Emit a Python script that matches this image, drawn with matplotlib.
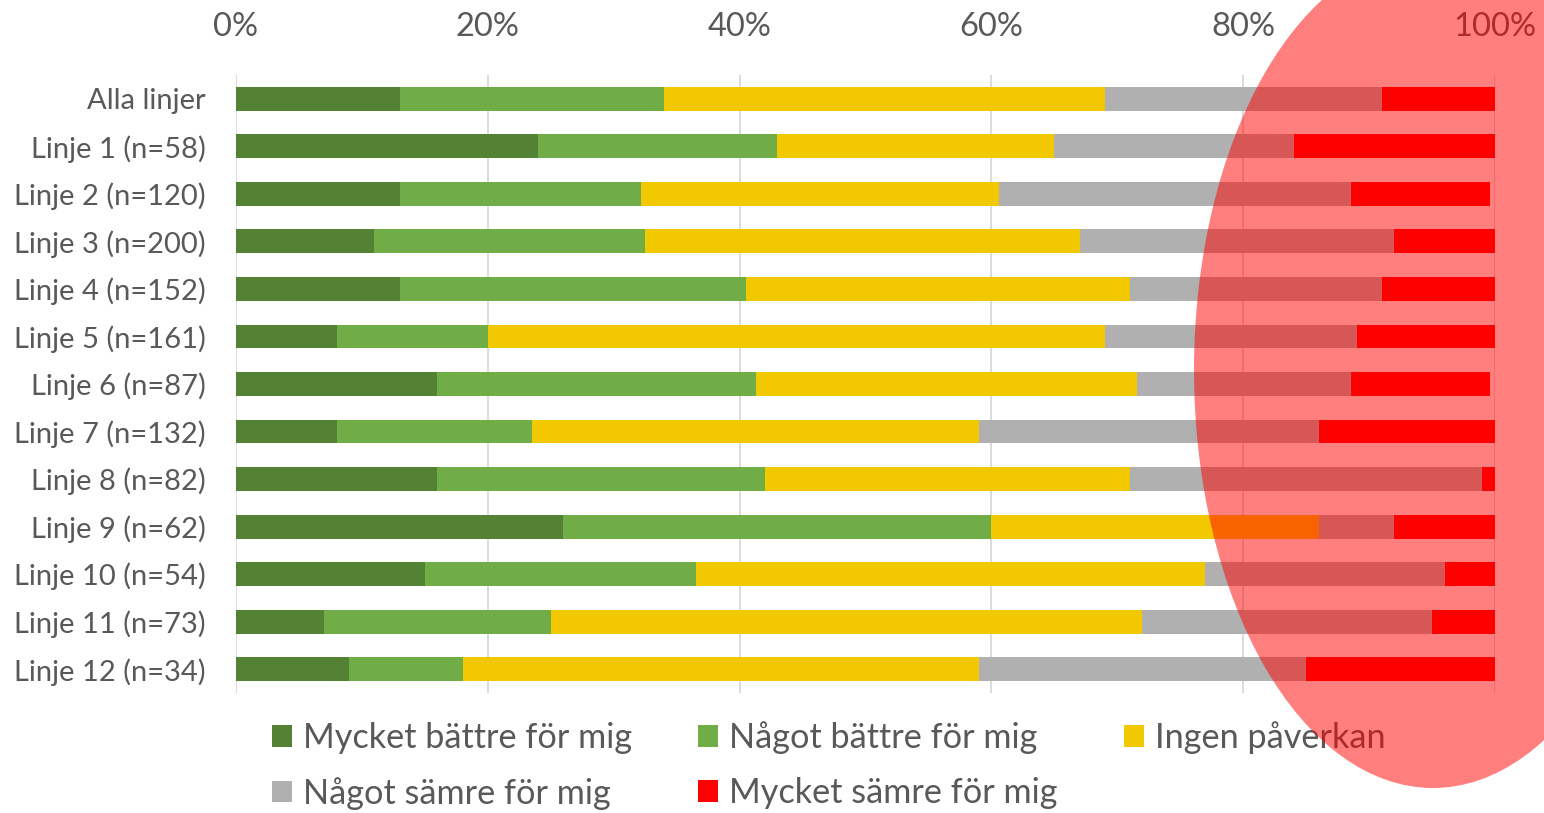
import matplotlib
matplotlib.use("Agg")
from matplotlib import pyplot as plt
from matplotlib.patches import Ellipse

plt.rcParams['font.family'] = ['Lato', 'DejaVu Sans']

kategorier = ['Alla linjer', 'Linje 1 (n=58)', 'Linje 2 (n=120)', 'Linje 3 (n=200)',
              'Linje 4 (n=152)', 'Linje 5 (n=161)', 'Linje 6 (n=87)', 'Linje 7 (n=132)',
              'Linje 8 (n=82)', 'Linje 9 (n=62)', 'Linje 10 (n=54)', 'Linje 11 (n=73)',
              'Linje 12 (n=34)']

# andelar i procent, en lista per svarsalternativ
mycket_battre = [13, 24, 13, 11, 13, 8, 16, 8, 16, 26, 15, 7, 9]
nagot_battre = [21, 19, 19.2, 21.5, 27.5, 12, 25.3, 15.5, 26, 34, 21.5, 18, 9]
ingen_paverkan = [35, 22, 28.4, 34.5, 30.5, 49, 30.3, 35.5, 29, 26, 40.5, 47, 41]
nagot_samre = [22, 19, 28, 25, 20, 20, 17, 27, 28, 6, 19, 23, 26]
mycket_samre = [9, 16, 11, 8, 9, 11, 11, 14, 1, 8, 4, 5, 15]

serier = ['Mycket bättre för mig', 'Något bättre för mig', 'Ingen påverkan',
          'Något sämre för mig', 'Mycket sämre för mig']
farger = ['#548235', '#70AD47', '#F2C800', '#B0B0B0', '#FF0000']
x_ticks = [0, 20, 40, 60, 80, 100]

textfarg = '#595959'

fig = plt.figure(figsize=(15.44, 8.13), dpi=100)
ax = fig.add_axes([236 / 1544, 1 - 693 / 813, (1495 - 236) / 1544, (693 - 75) / 813])

y = list(range(len(kategorier)))
bottom = [0] * len(kategorier)
data = [mycket_battre, nagot_battre, ingen_paverkan, nagot_samre, mycket_samre]
handles = []
for vals, namn, farg in zip(data, serier, farger):
    h = ax.barh(y, vals, left=bottom, height=0.5, color=farg, label=namn, zorder=2)
    handles.append(h)
    bottom = [b + v for b, v in zip(bottom, vals)]

ax.set_xlim(0, 100)
ax.set_ylim(len(kategorier) - 0.5, -0.5)
ax.set_yticks(y)
ax.set_yticklabels(kategorier, fontsize=21, color=textfarg)
ax.set_xticks(x_ticks)
ax.set_xticklabels([str(t) + '%' for t in x_ticks], fontsize=23.5, color=textfarg)
ax.xaxis.tick_top()
ax.tick_params(axis='both', length=0)
ax.tick_params(axis='x', pad=24)
ax.tick_params(axis='y', pad=22)
ax.grid(axis='x', color='#D9D9D9', linewidth=1.3, zorder=0)
for s in ax.spines.values():
    s.set_visible(False)

# legend radvis: ordna om för kolumnfyllning
ordning = [0, 3, 1, 4, 2]
leg = fig.legend([handles[i] for i in ordning], [serier[i] for i in ordning],
                 ncol=3, loc='upper left', bbox_to_anchor=(272 / 1544, 1 - 721 / 813),
                 frameon=False, fontsize=24.7, handlelength=0.58, handleheight=0.6,
                 handletextpad=0.32, columnspacing=1.93, labelspacing=0.67,
                 borderpad=0, borderaxespad=0)
for t in leg.get_texts():
    t.set_color(textfarg)

# röd halvgenomskinlig ellips ovanpå allt
ell = Ellipse((1433 / 1544, 1 - 370 / 813), 478 / 1544, 836 / 813,
              transform=fig.transFigure, facecolor='#FF0000', alpha=0.5,
              edgecolor='none', zorder=10)
fig.add_artist(ell)

fig.savefig('out.png', dpi=100)
